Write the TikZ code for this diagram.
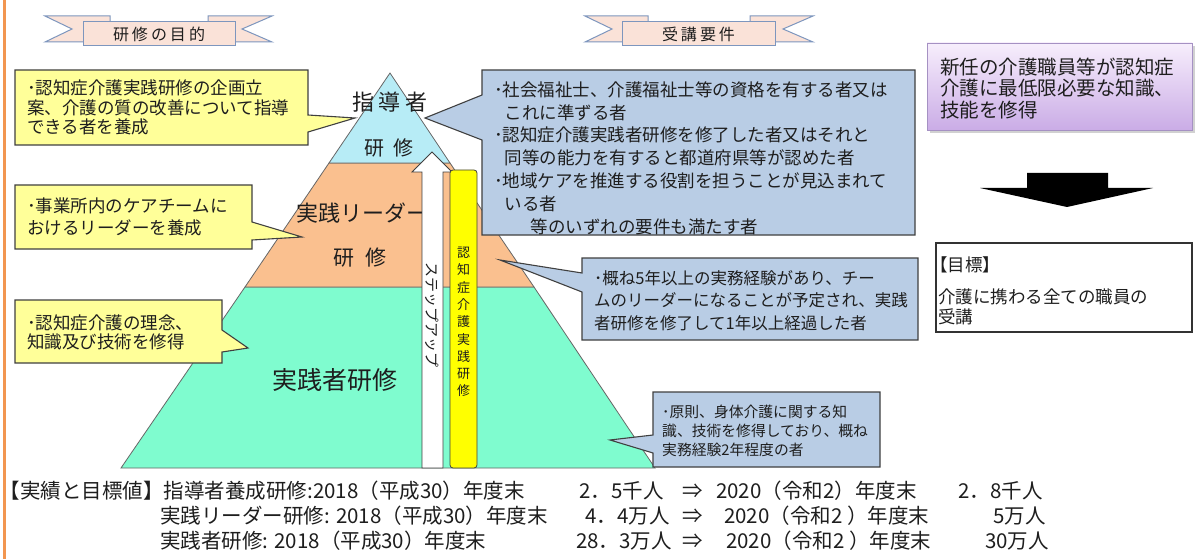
\documentclass[tikz,border=0pt]{standalone}
\usepackage{fontspec}
\setmainfont{Noto Sans CJK JP}
\newcommand\jfs[2]{\fontsize{#1pt}{#2pt}\selectfont}
\definecolor{yel}{RGB}{255,255,153}
\definecolor{blu}{RGB}{185,205,229}
\definecolor{edgec}{RGB}{64,64,64}
\definecolor{tiertop}{RGB}{183,236,246}
\definecolor{tiermid}{RGB}{250,192,143}
\definecolor{tierbot}{RGB}{127,252,207}
\definecolor{ribfill}{RGB}{250,226,216}
\definecolor{ribedge}{RGB}{125,150,190}
\definecolor{leftbar}{RGB}{242,150,80}
\definecolor{purtop}{RGB}{247,238,252}
\definecolor{purbot}{RGB}{202,172,230}
\definecolor{puredge}{RGB}{165,145,195}
\definecolor{barfill}{RGB}{255,255,0}
\definecolor{txtc}{RGB}{30,30,30}
\begin{document}
\begin{tikzpicture}[x=1pt,y=-1pt,
  lbl/.style={inner sep=0pt, align=left, anchor=west, text=txtc},
  ctr/.style={inner sep=0pt, text=txtc},
  callY/.style={fill=yel, draw=edgec, line width=1.1pt, line join=miter},
  callB/.style={fill=blu, draw=edgec, line width=1.1pt, line join=miter},
  tier/.style={draw=black!60, line width=0.8pt},
  ribbon/.style={fill=ribfill, draw=ribedge, line width=1pt},
  btxt/.style={inner sep=0pt, text=txtc, font=\jfs{20.5}{20.5}}]
\useasboundingbox (0,0) rectangle (1195,559);
\fill[white] (0,0) rectangle (1195,559);
% left border
\draw[leftbar, line width=3pt] (4,0) -- (4,559);

% ribbon 1
\filldraw[ribbon] (45,16) -- (110,16) -- (110,42) -- (45,42) -- (72,29) -- cycle;
\filldraw[ribbon] (272,16) -- (208,16) -- (208,42) -- (272,42) -- (242,29) -- cycle;
\filldraw[ribbon] (83,22) rectangle (235,46);
\node[ctr, font=\jfs{16}{16}] (goal) at (159,34.5) {研\hspace{3pt}修\hspace{3pt}の\hspace{3pt}目\hspace{3pt}的};
% ribbon 2
\filldraw[ribbon] (585,16) -- (648,16) -- (648,42) -- (585,42) -- (612,29) -- cycle;
\filldraw[ribbon] (813,16) -- (750,16) -- (750,42) -- (813,42) -- (783,29) -- cycle;
\filldraw[ribbon] (622,22) rectangle (775,46);
\node[ctr, font=\jfs{16}{16}] (req) at (698.5,34.5) {受\hspace{3pt}講\hspace{3pt}要\hspace{3pt}件};

% pyramid
\filldraw[tier, fill=tierbot] (245,287) -- (534,287) -- (655,468) -- (121,468) -- cycle;
\filldraw[tier, fill=tiermid] (329,163) -- (450,163) -- (534,287) -- (245,287) -- cycle;
\filldraw[tier, fill=tiertop] (390,73) -- (450,163) -- (329,163) -- cycle;
\node[ctr, font=\jfs{22}{22}] (lv1a) at (390,102) {指\hspace{5pt}導\hspace{5pt}者};
\node[ctr, font=\jfs{20}{20}] (lv1b) at (389,148) {研\hspace{9pt}修};
\node[lbl, font=\jfs{22}{22}] (lv2a) at (296,213) {実践リーダー};
\node[ctr, font=\jfs{21}{21}] (lv2b) at (360,258) {研\hspace{12pt}修};
\node[ctr, font=\jfs{25}{25}] (lv3) at (335,380) {実践者研修};

% step-up arrow
\filldraw[fill=white, draw=edgec, line width=0.8pt] (422,468) -- (422,172) -- (412,172) -- (432,152) -- (452,172) -- (443,172) -- (443,468) -- cycle;
\node[ctr, rotate=-90, font=\jfs{15}{15}] (step) at (432.5,315) {ステップアップ};
% yellow bar
\filldraw[fill=barfill, draw=edgec, line width=0.8pt, rounded corners=3pt] (450,170) rectangle (477,468);
\node[ctr, align=center, font=\jfs{13}{17.3}] (bar) at (463.5,322) {認\\知\\症\\介\\護\\実\\践\\研\\修};

% yellow callouts
\filldraw[callY] (15,70) -- (308,70) -- (308,115) -- (355,118) -- (308,132) -- (308,145) -- (15,145) -- cycle;
\node[lbl, font=\jfs{17.5}{19.5}] (y1) at (27,107.5) {･認知症介護実践研修の企画立\\案、介護の質の改善について指導\\できる者を養成};
\filldraw[callY] (15,185) -- (252,185) -- (252,222) -- (302,237) -- (252,240) -- (252,249) -- (15,249) -- cycle;
\node[lbl, font=\jfs{17.5}{22}] (y2) at (27,216.5) {･事業所内のケアチームに\\おけるリーダーを養成};
\filldraw[callY] (15,300) -- (222,300) -- (222,330) -- (248,348) -- (222,352) -- (222,363) -- (15,363) -- cycle;
\node[lbl, font=\jfs{17.5}{19.5}] (y3) at (27,332.5) {･認知症介護の理念、\\知識及び技術を修得};

% blue callouts
\filldraw[callB] (482,70) -- (915,70) -- (915,235) -- (482,235) -- (482,140) -- (425,118) -- (482,95) -- cycle;
\node[lbl, font=\jfs{17.5}{22.8}] (b1) at (494,158) {･社会福祉士、介護福祉士等の資格を有する者又は\\\hspace*{0.6em}これに準ずる者\\･認知症介護実践者研修を修了した者又はそれと\\\hspace*{0.6em}同等の能力を有すると都道府県等が認めた者\\･地域ケアを推進する役割を担うことが見込まれて\\\hspace*{0.6em}いる者\\\hspace*{2.1em}等のいずれの要件も満たす者};
\filldraw[callB] (582,258) -- (918,258) -- (918,340) -- (582,340) -- (582,292) -- (500,260) -- (582,273) -- cycle;
\node[lbl, font=\jfs{16.5}{22.5}] (b2) at (594,300.5) {･概ね5年以上の実務経験があり、チー\\ムのリーダーになることが予定され、実践\\者研修を修了して1年以上経過した者};
\filldraw[callB] (653,392) -- (880,392) -- (880,467) -- (653,467) -- (653,453) -- (610,440) -- (653,435) -- cycle;
\node[lbl, font=\jfs{14.8}{19}] (b3) at (662,431) {･原則、身体介護に関する知\\識、技術を修得しており、概ね\\実務経験2年程度の者};

% purple box
\fill[black!18] (930,46) rectangle (1195,133);
\shade[top color=purtop, bottom color=purbot] (927,43) rectangle (1192,130);
\draw[puredge, line width=0.8pt] (927,43) rectangle (1192,130);
\node[lbl, font=\jfs{19.5}{21.5}] (pur) at (940,88.5) {新任の介護職員等が認知症\\介護に最低限必要な知識、\\技能を修得};

% black arrow
\fill[black] (1027,173) -- (1108,173) -- (1108,188) -- (1153,188) -- (1067,207) -- (980,188) -- (1027,188) -- cycle;

% target box
\filldraw[fill=white, draw=black!80, line width=1.6pt] (936,243) rectangle (1192,332);
\node[lbl, font=\jfs{17.5}{17.5}] (tg1) at (938,265) {\hspace*{-0.45em}【目標】};
\node[lbl, font=\jfs{17.5}{17.5}] (tg2) at (938,297) {介護に携わる全ての職員の};
\node[lbl, font=\jfs{17.5}{17.5}] (tg3) at (938,317) {受講};

% bottom lines
\node[btxt, anchor=west] (l1a) at (9,491) {\hspace*{-0.45em}【実績と目標値】指導者養成研修:2018（平成30）年度末};
\node[btxt, anchor=east] (l1b) at (664,491) {2．5千人};
\node[btxt] (l1c) at (693,491) {⇒};
\node[btxt, anchor=west] (l1d) at (716,491) {2020（令和2）年度末};
\node[btxt, anchor=east] (l1e) at (1043,491) {2．8千人};
\node[btxt, anchor=west] (l2a) at (160,516) {実践リーダー研修: 2018（平成30）年度末};
\node[btxt, anchor=east] (l2b) at (670,516) {4．4万人};
\node[btxt] (l2c) at (693,516) {⇒};
\node[btxt, anchor=west] (l2d) at (724,516) {2020（令和2 ）年度末};
\node[btxt, anchor=east] (l2e) at (1046,516) {5万人};
\node[btxt, anchor=west] (l3a) at (160,541) {実践者研修: 2018（平成30）年度末};
\node[btxt, anchor=east] (l3b) at (672,541) {28．3万人};
\node[btxt] (l3c) at (693,541) {⇒};
\node[btxt, anchor=west] (l3d) at (726,541) {2020（令和2 ）年度末};
\node[btxt, anchor=east] (l3e) at (1049,541) {30万人};
\end{tikzpicture}
\end{document}
